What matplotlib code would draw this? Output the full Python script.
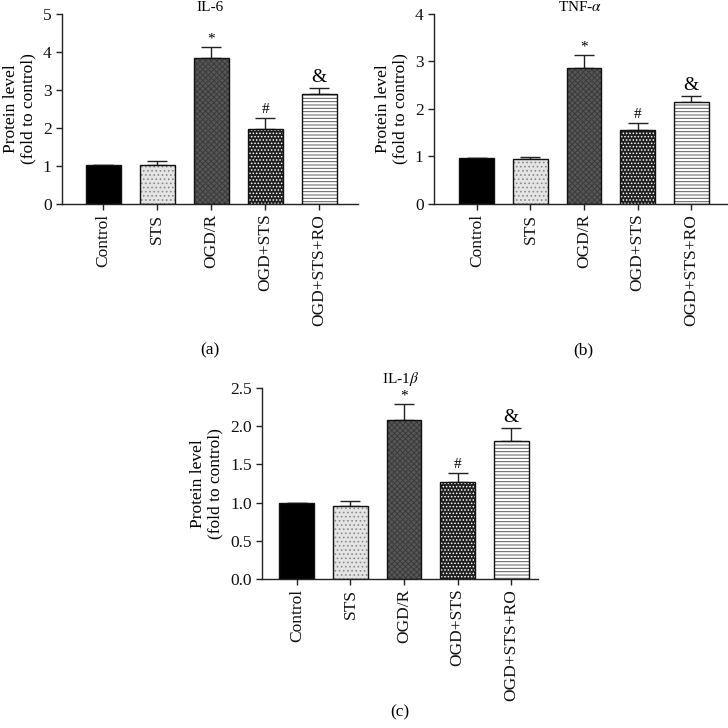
import numpy as np
import matplotlib.pyplot as plt

plt.rcParams['font.family'] = ['Liberation Serif', 'DejaVu Serif']
plt.rcParams['mathtext.fontset'] = 'stix'
plt.rcParams['hatch.linewidth'] = 0.7

# Gruppen
gruppen = ['Control', 'STS', 'OGD/R', 'OGD+STS', 'OGD+STS+RO']
zeichen = ['', '', '*', '#', '&']

# IL-6
il6_werte = [1.02, 1.02, 3.83, 1.97, 2.89]
il6_fehler = [0.0, 0.10, 0.31, 0.30, 0.17]

# TNF-alpha
tnf_werte = [0.96, 0.94, 2.87, 1.55, 2.14]
tnf_fehler = [0.0, 0.04, 0.27, 0.16, 0.14]

# IL-1beta
il1b_werte = [1.00, 0.96, 2.08, 1.27, 1.81]
il1b_fehler = [0.0, 0.06, 0.21, 0.12, 0.17]

# Fuellungen: (Flaeche, Schraffur, Schraffurfarbe)
stile = [
    ('#000000', '', '#000000'),
    ('#e4e4e4', '....', '#8a8a8a'),
    ('#575757', 'xxxxxx', '#3a3a3a'),
    ('#1e1e1e', '.....', '#ffffff'),
    ('#ffffff', '-----', '#5a5a5a'),
]

fs = 12.5


def zeichne_panel(ax, werte, fehler, titel, ylim, yticks, xlim, fmt):
    x = np.arange(len(werte))
    breite = 0.65
    for i in range(len(werte)):
        farbe, muster, mfarbe = stile[i]
        ax.bar(x[i], werte[i], width=breite, color=farbe, hatch=muster,
               edgecolor=mfarbe, linewidth=0, zorder=2)
        ax.bar(x[i], werte[i], width=breite, facecolor='none',
               edgecolor='#111111', linewidth=1.0, zorder=3)
    ax.errorbar(x, werte, yerr=[np.zeros(len(fehler)), fehler], fmt='none',
                ecolor='#222222', elinewidth=1.0, capsize=7, capthick=1.0, zorder=1)
    for i in range(len(werte)):
        if zeichen[i]:
            ax.annotate(zeichen[i], (x[i], werte[i] + fehler[i]),
                        xytext=(0, 1.0), textcoords='offset points',
                        ha='center', va='bottom',
                        fontsize=11 if zeichen[i] != '&' else 14)

    ax.set_xlim(*xlim)
    ax.set_ylim(*ylim)
    ax.set_yticks(yticks)
    ax.set_yticklabels([fmt.format(t) for t in yticks])
    ax.set_xticks(x)
    ax.set_xticklabels(gruppen, rotation=90)
    ax.spines['top'].set_visible(False)
    ax.spines['right'].set_visible(False)
    for s in ['left', 'bottom']:
        ax.spines[s].set_linewidth(1.0)
        ax.spines[s].set_color('#222222')
    ax.tick_params(axis='both', length=4, width=1.0, color='#222222',
                   labelsize=fs, labelcolor='#111111')
    ax.tick_params(axis='x', pad=3)
    ax.set_ylabel('Protein level\n(fold to control)', fontsize=fs, labelpad=5,
                  linespacing=1.05)
    ax.set_title(titel, fontsize=11, pad=1.5)


fig = plt.figure(figsize=(7.28, 7.28), dpi=100)

ax_a = fig.add_axes([0.0852, 0.7198, 0.4066, 0.261])
zeichne_panel(ax_a, il6_werte, il6_fehler, 'IL-6', (0, 5), [0, 1, 2, 3, 4, 5],
              (-0.76, 4.72), '{:.0f}')

ax_b = fig.add_axes([0.5962, 0.7198, 0.4025, 0.261])
zeichne_panel(ax_b, tnf_werte, tnf_fehler, r'TNF-$\alpha$', (0, 4), [0, 1, 2, 3, 4],
              (-0.80, 4.67), '{:.0f}')

ax_c = fig.add_axes([0.3599, 0.2047, 0.3791, 0.2624])
zeichne_panel(ax_c, il1b_werte, il1b_fehler, r'IL-1$\beta$', (0, 2.5),
              [0, 0.5, 1.0, 1.5, 2.0, 2.5], (-0.65, 4.5), '{:.1f}')

fig.text(0.288, 0.519, '(a)', ha='center', va='center', fontsize=fs)
fig.text(0.801, 0.519, '(b)', ha='center', va='center', fontsize=fs)
fig.text(0.549, 0.021, '(c)', ha='center', va='center', fontsize=fs)

fig.savefig('out.png', dpi=100)
